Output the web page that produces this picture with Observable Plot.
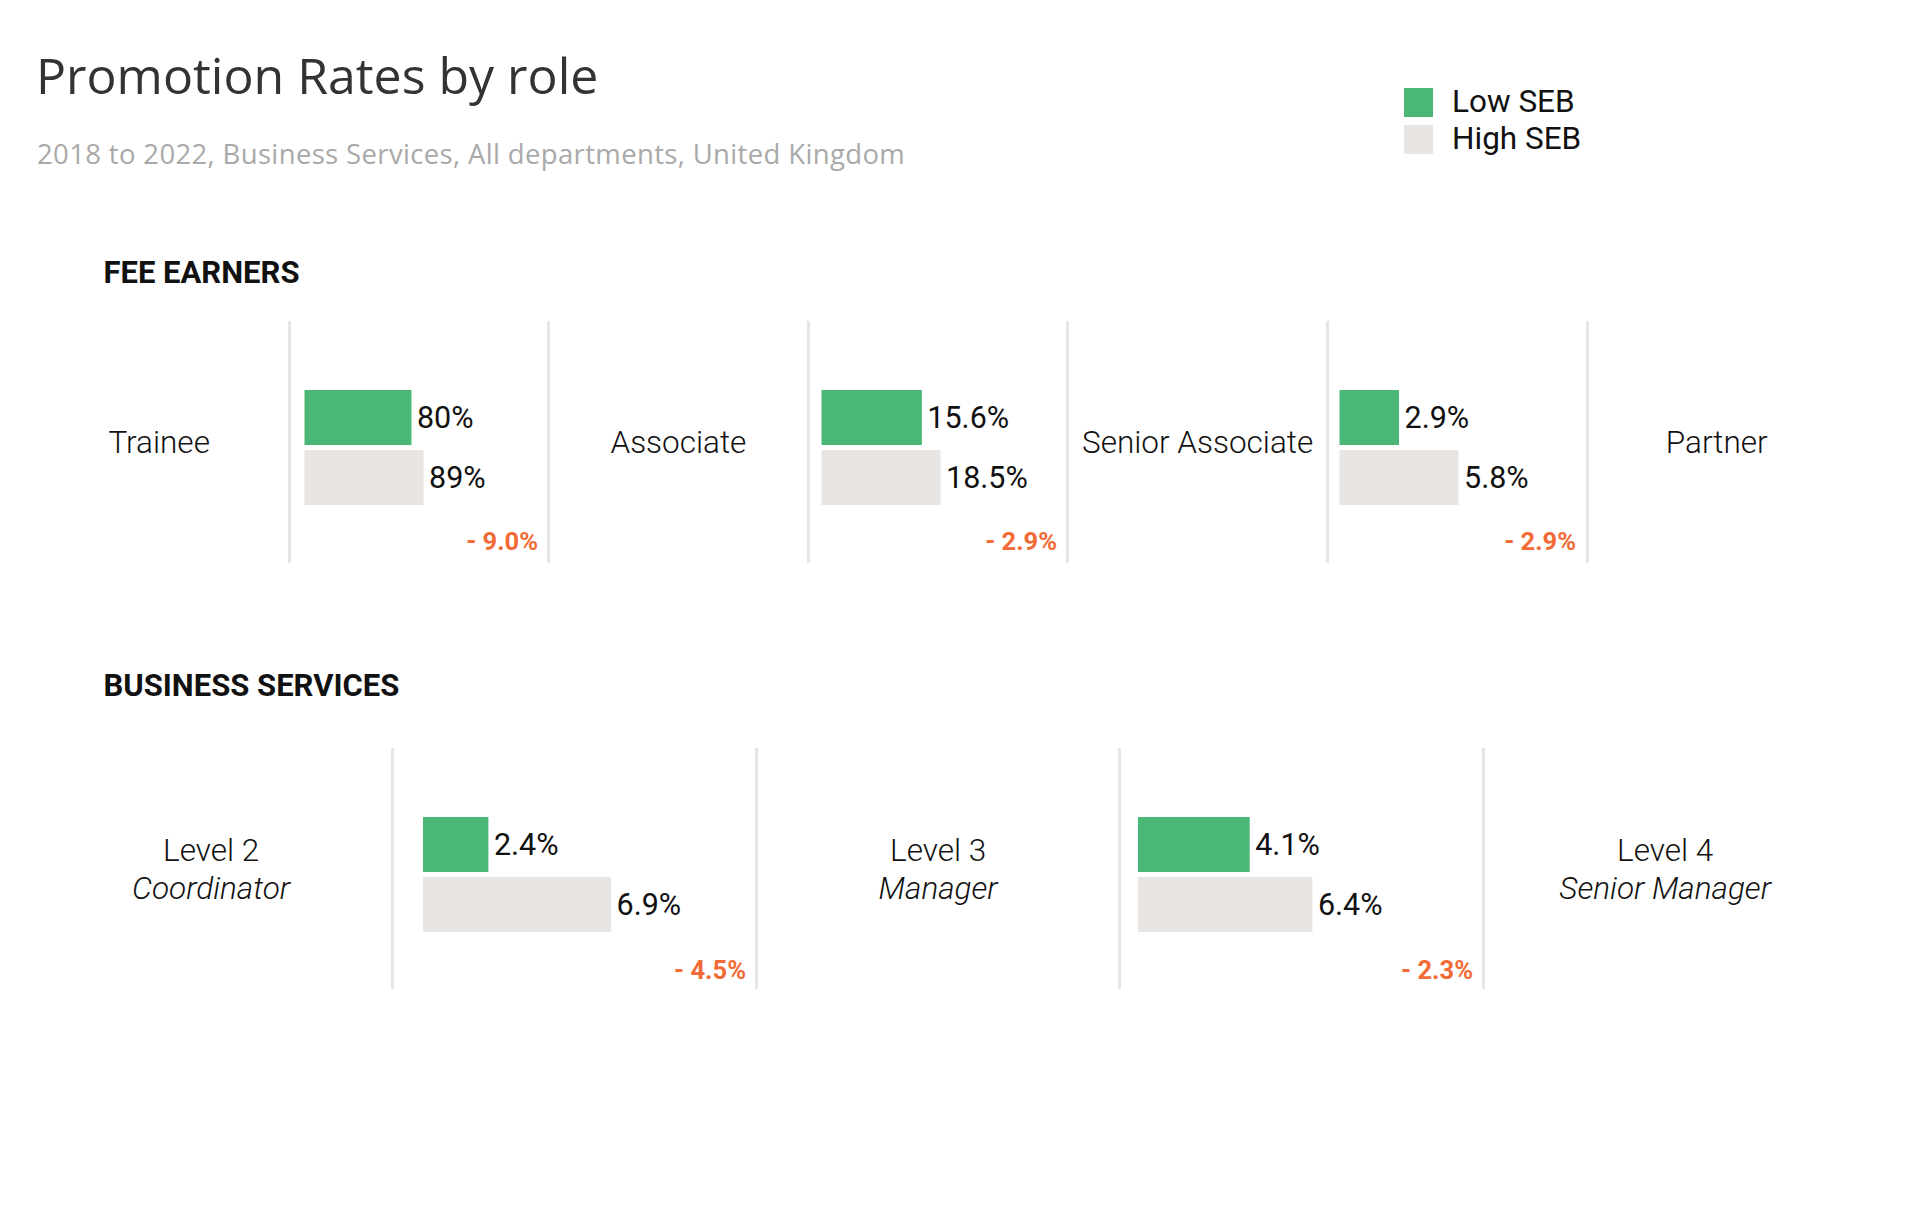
<!DOCTYPE html>
<html><head><meta charset="utf-8">
<script src="https://cdn.jsdelivr.net/npm/d3@7"></script>
<script src="https://cdn.jsdelivr.net/npm/@observablehq/plot@0.6"></script>
<style>
body{margin:0;background:#fff;}
#page{position:relative;width:1920px;height:1228px;overflow:hidden;font-family:Roboto,sans-serif;background:#fff;}
.abs{position:absolute;white-space:nowrap;line-height:1;}
.cell{position:absolute;display:flex;flex-direction:column;justify-content:center;align-items:center;font-family:Roboto,sans-serif;font-weight:300;font-size:31.5px;line-height:38px;color:#111;box-sizing:border-box;}
</style></head><body>
<div id="page"></div>
<script>
// ---- data ----
const title = "Promotion Rates by role";
const subtitle = "2018 to 2022, Business Services, All departments, United Kingdom";
const seriesNames = ["Low SEB", "High SEB"];
const seriesColors = ["#4bb776", "#e8e5e2"];
const feeHeader = "FEE EARNERS";
const feeRoles = ["Trainee", "Associate", "Senior Associate", "Partner"];
const feeLow = [80, 15.6, 2.9];
const feeHigh = [89, 18.5, 5.8];
const bsHeader = "BUSINESS SERVICES";
const bsLevels = ["Level 2", "Level 3", "Level 4"];
const bsRoles = ["Coordinator", "Manager", "Senior Manager"];
const bsLow = [2.4, 4.1];
const bsHigh = [6.9, 6.4];

// ---- layout ----
const page = document.getElementById("page");
function addText(txt, o) {
  const d = document.createElement("div");
  d.className = "abs"; d.textContent = txt;
  Object.assign(d.style, {left: o.left + "px", top: o.top + "px", fontSize: o.size + "px",
    fontWeight: o.weight || 400, color: o.color || "#111", fontFamily: o.family || "Roboto", fontStyle: o.style || "normal",
    letterSpacing: (o.spacing || 0) + "px"});
  page.appendChild(d); return d;
}
function addBox(left, top, w, h, bg, cls) {
  const d = document.createElement("div");
  if (cls) d.className = cls;
  Object.assign(d.style, {position: "absolute", left: left + "px", top: top + "px", width: w + "px", height: h + "px", background: bg});
  page.appendChild(d); return d;
}

addText(title, {left: 36, top: 94 - 0.888 * 50, size: 50, color: "#333", family: "'Open Sans'"});
addText(subtitle, {left: 37, top: 164 - 0.888 * 27.5, size: 27.5, color: "#a9a9a9", family: "'Open Sans'", spacing: 0.35});

// legend
seriesNames.forEach((s, i) => {
  addBox(1403.5, 87.5 + i * 37, 29, 29, seriesColors[i]);
  addText(s, {left: 1452, top: 113 + i * 36.6 - 0.842 * 31.5, size: 31.5, color: "#111"});
});

addText(feeHeader, {left: 103.5, top: 283 - 0.842 * 31, size: 31, weight: 700, color: "#111"});
addText(bsHeader, {left: 103.5, top: 696 - 0.842 * 31, size: 31, weight: 700, color: "#111"});

const fmt = v => Number.isInteger(v) ? `${v}%` : `${v.toFixed(1)}%`;
const fmtDiff = d => `${d < 0 ? "-" : "+"} ${Math.abs(d).toFixed(1)}%`;

function barPanel({low, high, width, height, domain, range, diffDy}) {
  const data = [{g: seriesNames[0], v: low}, {g: seriesNames[1], v: high}];
  return Plot.plot({
    width, height, margin: 0,
    x: {domain, range, axis: null},
    y: {domain: seriesNames, range: [68, 184], paddingInner: 0.09, paddingOuter: 0, axis: null},
    color: {domain: seriesNames, range: seriesColors},
    style: {fontFamily: "Roboto, sans-serif", background: "transparent", overflow: "visible"},
    marks: [
      Plot.barX(data, {x: "v", y: "g", fill: "g"}),
      Plot.text(data, {x: "v", y: "g", text: d => fmt(d.v), textAnchor: "start", dx: 5, fontSize: 30.5, fill: "#111"}),
      Plot.text([low - high], {frameAnchor: "bottom-right", text: d => fmtDiff(d), textAnchor: "end", lineAnchor: "middle",
        dx: -11, dy: diffDy, fontSize: 25.5, fontWeight: 700, fill: "#f26a35"})
    ]
  });
}

const left0 = 29.4;
// Fee earners row
const feeTop = 321, feeH = 242, feeW = 259.6;
const feeOffsets = [15.5, 13.5, 12.5], feeSpan = 119;
feeRoles.forEach((r, i) => {
  const c = addBox(left0 + 2 * i * feeW, feeTop, feeW, feeH, "transparent", "cell");
  c.style.paddingTop = "2px";
  c.textContent = r;
});
feeLow.forEach((low, i) => {
  const x = left0 + (2 * i + 1) * feeW;
  addBox(x - 1.5, feeTop, 3, feeH, "#e8e5e2");
  addBox(x + feeW - 1.5, feeTop, 3, feeH, "#e8e5e2");
  const svg = barPanel({low, high: feeHigh[i], width: feeW, height: feeH,
    domain: [0, feeHigh[i]], range: [feeOffsets[i], feeOffsets[i] + feeSpan], diffDy: -22});
  const w = document.createElement("div");
  Object.assign(w.style, {position: "absolute", left: x + "px", top: feeTop + "px"});
  w.appendChild(svg); page.appendChild(w);
});

// Business services row
const bsTop = 748, bsH = 241, bsW = 363.5;
const bsOffsets = [30, 18], bsSpan = 188;
const bsMax = d3.max(bsHigh);
bsLevels.forEach((l, i) => {
  const c = addBox(left0 + 2 * i * bsW, bsTop, bsW, bsH, "transparent", "cell");
  c.style.paddingTop = "3px";
  const a = document.createElement("div"); a.textContent = l;
  const b = document.createElement("div"); b.textContent = bsRoles[i]; b.style.fontStyle = "italic";
  c.appendChild(a); c.appendChild(b);
});
bsLow.forEach((low, i) => {
  const x = left0 + (2 * i + 1) * bsW;
  addBox(x - 1.5, bsTop, 3, bsH, "#e8e5e2");
  addBox(x + bsW - 1.5, bsTop, 3, bsH, "#e8e5e2");
  const svg = barPanel({low, high: bsHigh[i], width: bsW, height: bsH,
    domain: [0, bsMax], range: [bsOffsets[i], bsOffsets[i] + bsSpan], diffDy: -19});
  const w = document.createElement("div");
  Object.assign(w.style, {position: "absolute", left: x + "px", top: bsTop + "px"});
  w.appendChild(svg); page.appendChild(w);
});
</script>
</body></html>
